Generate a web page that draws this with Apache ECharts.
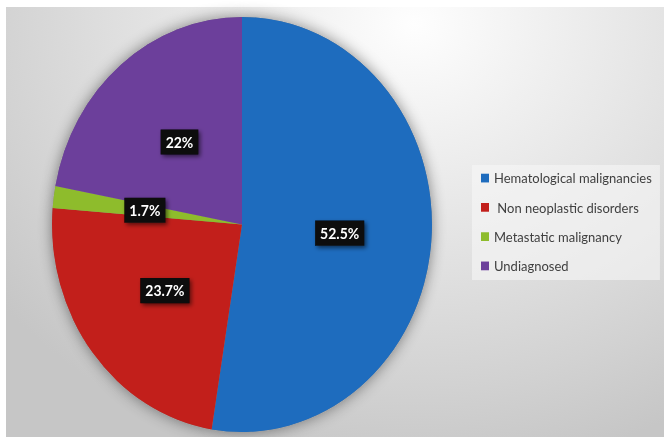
<!DOCTYPE html>
<html>
<head>
<meta charset="utf-8">
<script src="https://cdn.jsdelivr.net/npm/echarts@6/dist/echarts.min.js"></script>
<style>
  html, body { margin: 0; padding: 0; background: #ffffff; width: 664px; height: 437px; overflow: hidden; }
  #bg { position: absolute; left: 6px; top: 7px; right: 0; bottom: 0;
        background: radial-gradient(ellipse 80% 105% at 62% 4%, #fefefe 0%, #f0f0f0 25%, #e0e0e0 55%, #d2d2d2 80%, #c6c6c6 100%); }
  #chart { position: absolute; left: 0; top: 0; width: 664px; height: 400px;
           transform: scaleY(1.0925); transform-origin: 0 0; }
</style>
</head>
<body>
<div id="bg"></div>
<div id="chart"></div>
<script>
// Data
var categories = ['Hematological malignancies', ' Non neoplastic disorders', 'Metastatic malignancy', 'Undiagnosed'];
var values = [52.5, 23.7, 1.7, 22];
var colors = ['#1e6cbe', '#c21f1b', '#8ebc2c', '#6c3f9b'];

var pieData = categories.map(function (c, i) { return { name: c, value: values[i] }; });

var chart = echarts.init(document.getElementById('chart'), null, { renderer: 'svg' });
var font = 'Lato, "Open Sans", sans-serif';
chart.setOption({
  backgroundColor: 'transparent',
  animation: false,
  color: colors,
  legend: {
    orient: 'vertical',
    left: 472,
    top: 151,
    padding: [4, 8, 5, 9],
    backgroundColor: 'rgba(246,246,246,0.6)',
    itemWidth: 8,
    itemHeight: 8,
    itemGap: 10.8,
    icon: 'rect',
    textStyle: { fontFamily: font, fontSize: 13, color: '#404040', lineHeight: 16 },
    data: categories
  },
  series: [
    {
      type: 'pie',
      center: [242, 205.5],
      radius: 190,
      z: 2,
      startAngle: 90,
      clockwise: true,
      label: {
        show: true,
        position: 'inside',
        formatter: '{c}%',
        color: '#ffffff',
        fontFamily: font,
        fontWeight: 'bold',
        fontSize: 14,
        backgroundColor: '#0a0a0a',
        padding: [5, 5, 4, 5],
        shadowColor: 'rgba(0,0,0,0.55)',
        shadowBlur: 4,
        shadowOffsetX: 2,
        shadowOffsetY: 2
      },
      labelLine: { show: false },
      itemStyle: { borderWidth: 0 },
      data: pieData
    },
    {
      type: 'pie',
      silent: true,
      center: [242, 205.5],
      radius: 190,
      z: 1,
      label: { show: false },
      labelLine: { show: false },
      itemStyle: { color: '#888', shadowBlur: 14, shadowColor: 'rgba(0,0,0,0.45)' },
      data: pieData,
      tooltip: { show: false }
    }
  ]
});
</script>
</body>
</html>
